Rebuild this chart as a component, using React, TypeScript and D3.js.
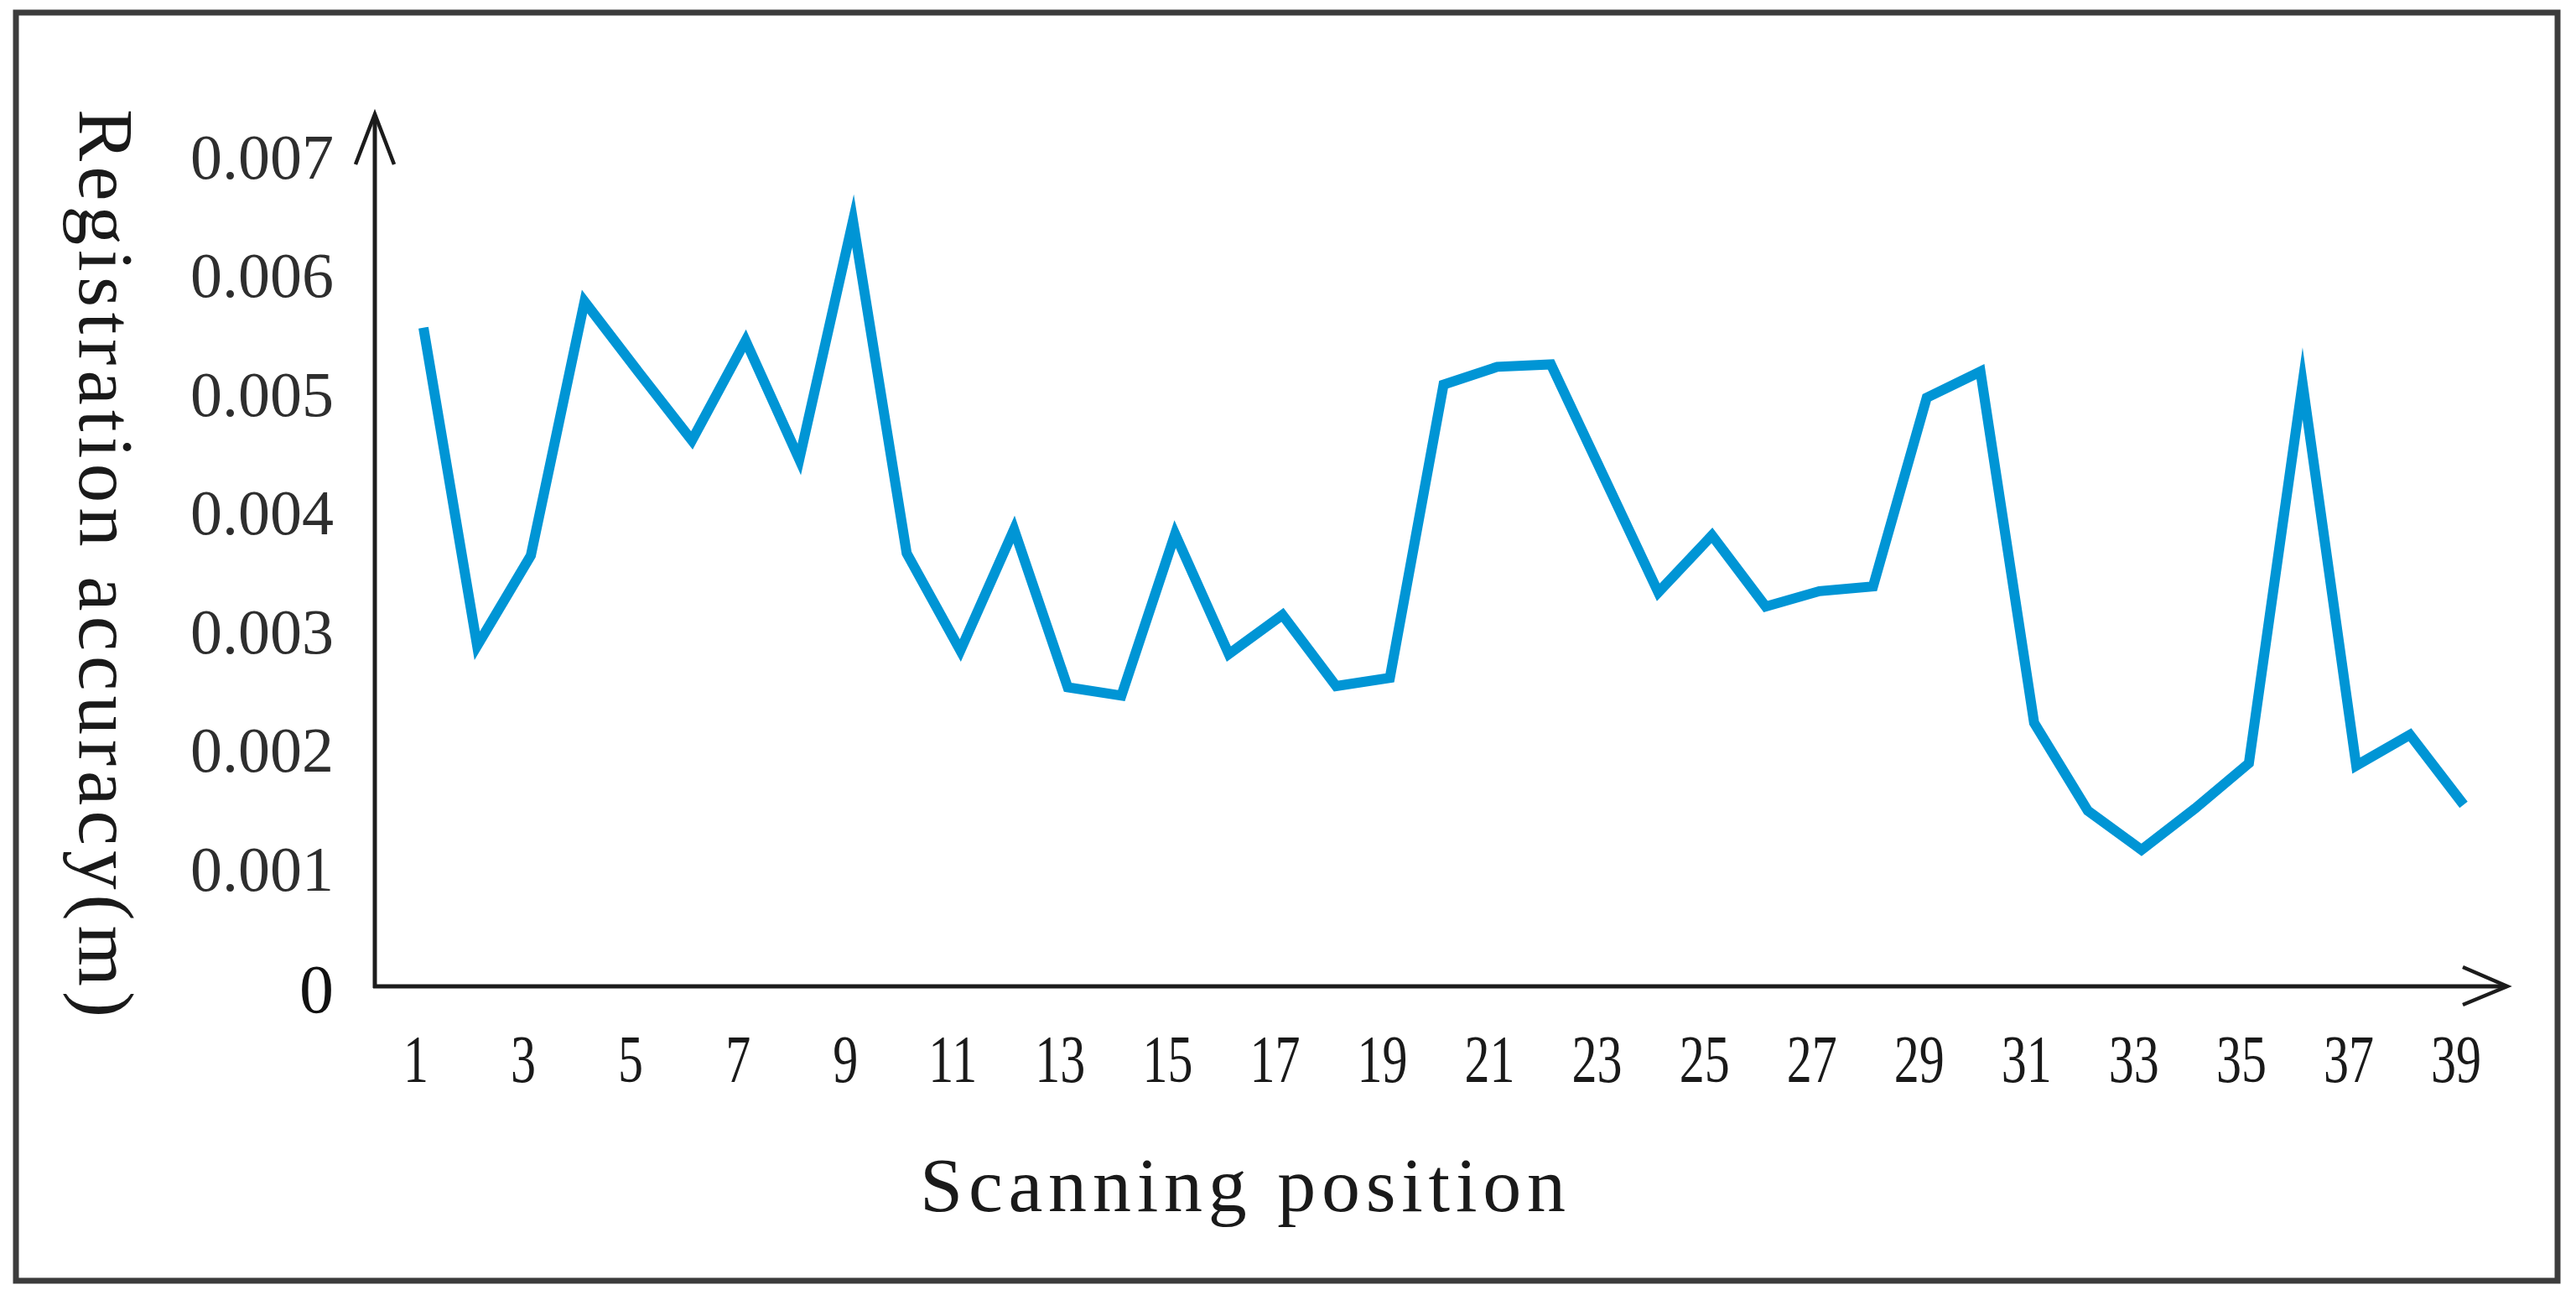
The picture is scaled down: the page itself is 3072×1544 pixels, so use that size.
import React from "react";
import * as d3 from "d3";

const positions: number[] = Array.from({ length: 39 }, (_, i) => i + 1);
const accuracy: number[] = [
  0.00555, 0.00287, 0.00363, 0.00577, 0.00518, 0.0046, 0.00544, 0.00444, 0.00645, 0.00365,
  0.00283, 0.00385, 0.00252, 0.00245, 0.00381, 0.0028, 0.00313, 0.00253, 0.0026, 0.00507,
  0.00522, 0.00524, 0.00428, 0.00332, 0.0038, 0.0032, 0.00333, 0.00337, 0.00496, 0.00518,
  0.00222, 0.00148, 0.00115, 0.0015, 0.00188, 0.00508, 0.00186, 0.00212, 0.00153,
];
const xTickLabels: number[] = [1, 3, 5, 7, 9, 11, 13, 15, 17, 19, 21, 23, 25, 27, 29, 31, 33, 35, 37, 39];
const yTickValues: number[] = [0, 0.001, 0.002, 0.003, 0.004, 0.005, 0.006, 0.007];
const yTickLabels: string[] = ["0", "0.001", "0.002", "0.003", "0.004", "0.005", "0.006", "0.007"];
const xTitle = "Scanning position";
const yTitle = "Registration accuracy(m)";

export default function App() {
  const W = 3072;
  const H = 1544;
  const axisX = 447;
  const axisY = 1176;
  const x = d3.scaleLinear().domain([1, 39]).range([505, 2938]);
  const y = d3.scaleLinear().domain([0, 0.007]).range([axisY, axisY - 7 * 141.5]);
  const data = positions.map((p, i) => [p, accuracy[i]] as [number, number]);
  const line = d3
    .line<[number, number]>()
    .x((d) => x(d[0]))
    .y((d) => y(d[1]))(data) as string;
  const font = "'Liberation Serif', 'Times New Roman', serif";
  const axisColor = "#1c1c1c";

  return (
    <svg
      width={W}
      height={H}
      viewBox={`0 0 ${W} ${H}`}
      style={{ position: "absolute", left: 0, top: 0, background: "#fff" }}
    >
      <rect x={0} y={0} width={W} height={H} fill="#fff" />
      {/* outer frame */}
      <rect x={19} y={15} width={3031} height={1512} fill="none" stroke="#3c3c3c" strokeWidth={7} />

      {/* y axis */}
      <line x1={axisX} y1={axisY + 2} x2={axisX} y2={137} stroke={axisColor} strokeWidth={5} />
      <polyline
        points={`${axisX - 23},196 ${axisX},136 ${axisX + 23},196`}
        fill="none"
        stroke={axisColor}
        strokeWidth={4.5}
      />
      {/* x axis */}
      <line x1={axisX - 2} y1={axisY} x2={2989} y2={axisY} stroke={axisColor} strokeWidth={5} />
      <polyline
        points={`2937,1153 2990,${axisY} 2937,1198`}
        fill="none"
        stroke={axisColor}
        strokeWidth={4.5}
      />

      {/* y tick labels */}
      {yTickValues.map((v, i) => (
        <text
          key={"y" + i}
          x={398}
          y={y(v) + (i === 0 ? 31 : 27)}
          textAnchor="end"
          fontFamily={font}
          fontSize={i === 0 ? 82 : 76}
          fill={i === 0 ? "#111" : "#2e2e2e"}
        >
          {yTickLabels[i]}
        </text>
      ))}

      {/* x tick labels */}
      {xTickLabels.map((t) => (
        <text
          key={"x" + t}
          transform={`translate(${x(t) - 9},1290) scale(0.75,1)`}
          textAnchor="middle"
          fontFamily={font}
          fontSize={80}
          fill="#1a1a1a"
        >
          {t}
        </text>
      ))}

      {/* data line */}
      <path
        d={line}
        fill="none"
        stroke="#0095d5"
        strokeWidth={12}
        strokeLinejoin="miter"
        strokeMiterlimit={10}
        strokeLinecap="butt"
      />

      {/* axis titles */}
      <text
        x={1097}
        y={1444}
        fontFamily={font}
        fontSize={92}
        textLength={770}
        lengthAdjust="spacing"
        fill="#1a1a1a"
      >
        {xTitle}
      </text>
      <text
        transform={`translate(95,130) rotate(90)`}
        x={0}
        y={0}
        fontFamily={font}
        fontSize={93}
        textLength={1083}
        lengthAdjust="spacing"
        fill="#1a1a1a"
      >
        {yTitle}
      </text>
    </svg>
  );
}
